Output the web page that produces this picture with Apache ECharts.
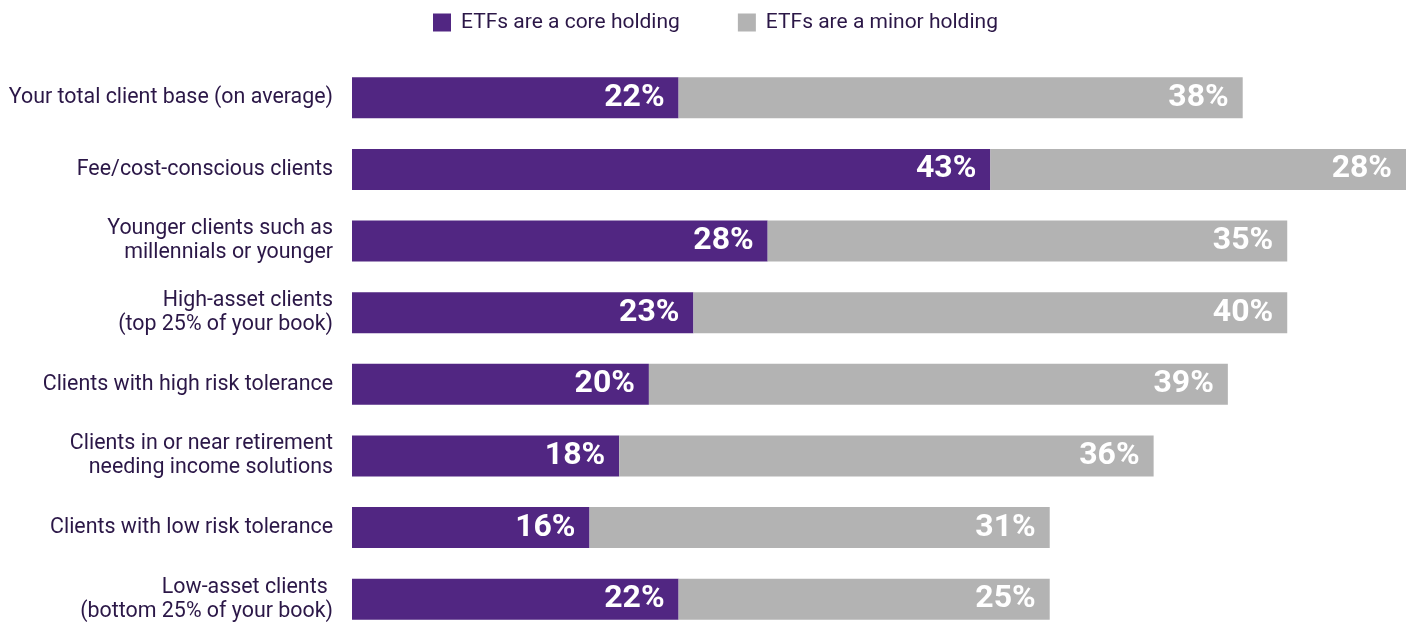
<!DOCTYPE html>
<html>
<head>
<meta charset="utf-8">
<script src="https://cdn.jsdelivr.net/npm/echarts@6/dist/echarts.min.js"></script>
<style>
  html, body { margin: 0; padding: 0; background: #fff; overflow: hidden; }
  #chart { width: 1412px; height: 640px; }
</style>
</head>
<body>
<div id="chart"></div>
<script>
// categories, top to bottom
var categories = [
    "Your total client base (on average)",
    "Fee/cost-conscious clients",
    "Younger clients such as\nmillennials or younger",
    "High-asset clients\n(top 25% of your book)",
    "Clients with high risk tolerance",
    "Clients in or near retirement\nneeding income solutions",
    "Clients with low risk tolerance",
    "Low-asset clients \n(bottom 25% of your book)"
];
var seriesNames = ["ETFs are a core holding", "ETFs are a minor holding"];
var coreHolding = [22, 43, 28, 23, 20, 18, 16, 22];
var minorHolding = [38, 28, 35, 40, 39, 36, 31, 25];

var textColor = "#2b1747";
var colors = ["#512682", "#b3b3b3"];

var chart = echarts.init(document.getElementById("chart"));

// 数值标签
var valueLabel = {
    show: true,
    position: "insideRight",
    distance: 14,
    color: "#fff",
    fontFamily: "Roboto",
    fontWeight: "bold",
    fontSize: 32,
    formatter: "{c}%"
};

chart.setOption({
    animation: false,
    color: colors,
    legend: {
        data: seriesNames,
        top: 7,
        left: 428,
        itemWidth: 18,
        itemHeight: 18,
        itemGap: 58,
        icon: "rect",
        textStyle: {
            color: textColor,
            fontFamily: "Roboto",
            fontSize: 21,
            padding: [0, 0, 0, 5]
        }
    },
    grid: {
        left: 352,
        right: 6,
        top: 62,
        height: 573,
        containLabel: false
    },
    xAxis: {
        type: "value",
        min: 0,
        max: 71,
        show: false
    },
    yAxis: {
        type: "category",
        data: categories,
        inverse: true,
        axisLine: { show: false },
        axisTick: { show: false },
        axisLabel: {
            margin: 19,
            color: textColor,
            fontFamily: "Roboto",
            fontSize: 21.4,
            lineHeight: 24,
            align: "right",
            padding: [3, 0, 0, 0]
        }
    },
    series: [
        {
            name: seriesNames[0],
            type: "bar",
            stack: "total",
            barWidth: 41,
            data: coreHolding,
            label: valueLabel
        },
        {
            name: seriesNames[1],
            type: "bar",
            stack: "total",
            barWidth: 41,
            data: minorHolding,
            label: valueLabel
        }
    ]
});
</script>
</body>
</html>
